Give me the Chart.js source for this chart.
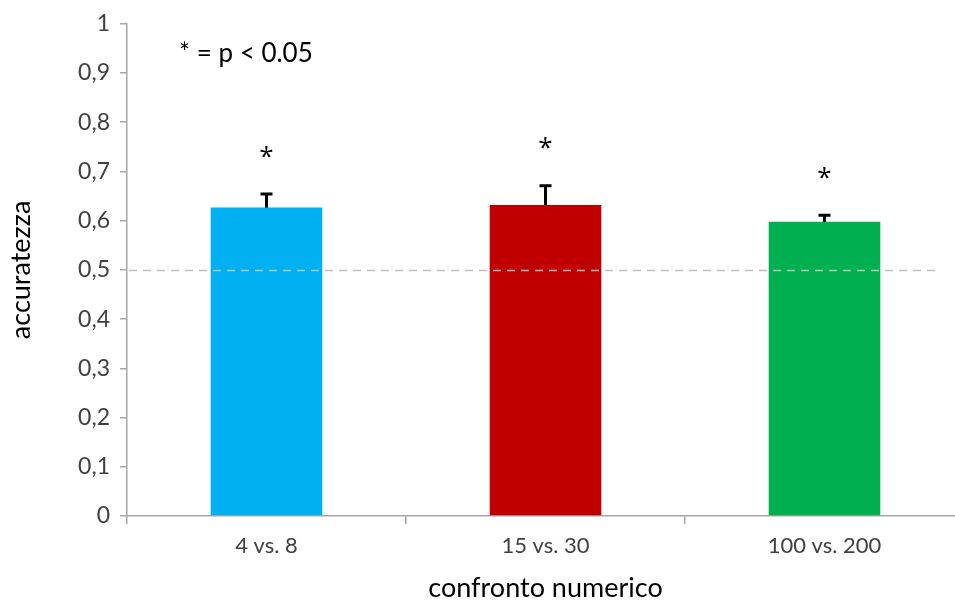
<!DOCTYPE html>
<html>
<head>
<meta charset="utf-8">
<script src="https://cdn.jsdelivr.net/npm/chart.js@4.4.0/dist/chart.umd.min.js"></script>
<style>
	html, body { margin: 0; padding: 0; background: #fff; overflow: hidden; }
	#wrap { position: relative; width: 970px; height: 605px; }
</style>
</head>
<body>
<div id="wrap"><canvas id="canvas0"></canvas></div>
<script>
// Data
var categories = ['4 vs. 8', '15 vs. 30', '100 vs. 200'];
var accuracy = [0.627, 0.632, 0.598];
var stdErr = [0.027, 0.039, 0.013];
var significant = [true, true, true];
var barColors = ['#00B0F0', '#C00000', '#00B050'];
var chanceLevel = 0.5;
var yTicks = [0, 0.1, 0.2, 0.3, 0.4, 0.5, 0.6, 0.7, 0.8, 0.9, 1];

var fontFamily = 'Lato, "Open Sans", sans-serif';

// Error bars, asterisks, chance line and note
var extras = {
	id: 'extras',
	beforeDatasetsDraw: function(chart) {
		let ctx = chart.ctx;
		let meta = chart.getDatasetMeta(0);
		let y = chart.scales.y;
		ctx.save();
		ctx.strokeStyle = '#000';
		ctx.lineWidth = 3;
		meta.data.forEach(function(bar, i) {
			let top = y.getPixelForValue(accuracy[i] + stdErr[i]);
			let bot = y.getPixelForValue(accuracy[i] - stdErr[i]);
			ctx.beginPath();
			ctx.moveTo(bar.x, bot);
			ctx.lineTo(bar.x, top);
			ctx.moveTo(bar.x - 6, top);
			ctx.lineTo(bar.x + 6, top);
			ctx.stroke();
		});
		ctx.restore();
	},
	afterDatasetsDraw: function(chart) {
		let ctx = chart.ctx;
		let meta = chart.getDatasetMeta(0);
		let y = chart.scales.y;
		let area = chart.chartArea;
		ctx.save();
		// chance level
		let cy = Math.round(y.getPixelForValue(chanceLevel)) + 0.5;
		ctx.strokeStyle = '#BFBFBF';
		ctx.lineWidth = 1.5;
		ctx.setLineDash([8, 6]);
		ctx.beginPath();
		ctx.moveTo(area.left + 2, cy);
		ctx.lineTo(area.right - 24, cy);
		ctx.stroke();
		ctx.setLineDash([]);
		// asterisks
		ctx.fillStyle = '#000';
		ctx.font = '26px "Open Sans", sans-serif';
		ctx.textAlign = 'center';
		ctx.textBaseline = 'middle';
		meta.data.forEach(function(bar, i) {
			if(!significant[i])
				return;
			let top = y.getPixelForValue(accuracy[i] + stdErr[i]);
			ctx.fillText('*', bar.x, top - 37);
		});
		// note
		ctx.textAlign = 'left';
		ctx.font = '26px ' + fontFamily;
		ctx.fillText('* = p < 0.05', area.left + 52, y.getPixelForValue(0.94));
		ctx.restore();
	}
};

let ctx = document.getElementById('canvas0').getContext('2d');
let chartJsOptions = {
	type: 'bar',
	data: {
		labels: categories,
		datasets: [{
			data: accuracy,
			backgroundColor: barColors,
			borderWidth: 0,
			categoryPercentage: 1.0,
			barPercentage: 0.4
		}]
	},
	options: {
		responsive: true,
		maintainAspectRatio: false,
		animation: false,
		layout: {
			padding: { top: 14, right: 6, left: 0, bottom: 0 }
		},
		scales: {
			x: {
				grid: {
					display: true,
					offset: true,
					drawOnChartArea: false,
					tickLength: 8,
					color: '#A6A6A6',
					lineWidth: 1.5
				},
				border: { color: '#A6A6A6', width: 1.5 },
				ticks: {
					color: '#404040',
					font: { family: fontFamily, size: 22 },
					padding: 9
				},
				title: {
					display: true,
					text: 'confronto numerico',
					color: '#000',
					font: { family: fontFamily, size: 27 },
					padding: { top: 4, bottom: 1 }
				},
				afterFit: function(scale) { scale.height = 89; }
			},
			y: {
				min: 0,
				max: 1,
				afterBuildTicks: function(scale) {
					scale.ticks = yTicks.map(v => ({ value: v }));
				},
				grid: {
					display: true,
					drawOnChartArea: false,
					tickLength: 7,
					color: '#A6A6A6',
					lineWidth: 1.5
				},
				border: { color: '#A6A6A6', width: 1.5 },
				ticks: {
					color: '#404040',
					font: { family: fontFamily, size: 23 },
					padding: 10,
					callback: function(v) { return String(v).replace('.', ','); }
				},
				title: {
					display: true,
					text: 'accuratezza',
					color: '#000',
					font: { family: fontFamily, size: 27 },
					padding: { top: 5, bottom: 10 }
				},
				afterFit: function(scale) { scale.width = 127; }
			}
		},
		plugins: {
			legend: { display: false },
			tooltip: { enabled: false }
		}
	},
	plugins: [extras]
};
let chart = new Chart(ctx, chartJsOptions);
</script>
</body>
</html>
